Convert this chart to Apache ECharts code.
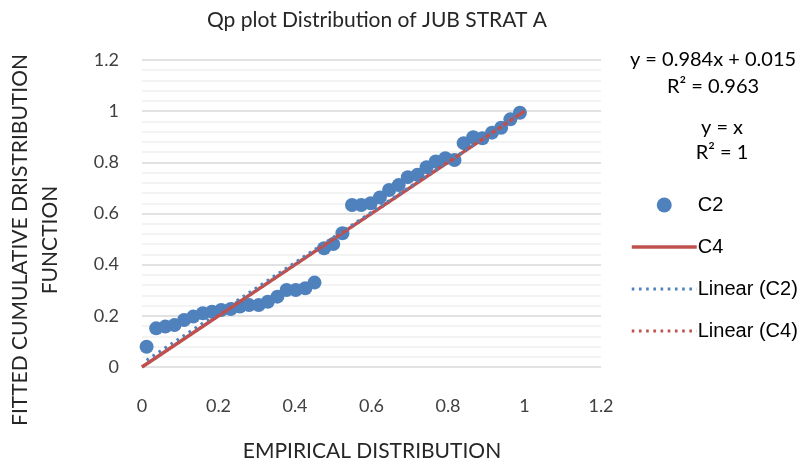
<!DOCTYPE html>
<html><head><meta charset="utf-8">
<script src="https://cdn.jsdelivr.net/npm/echarts@6/dist/echarts.min.js"></script>
<style>html,body{margin:0;padding:0;background:#fff}#c{width:807px;height:463px}</style>
</head><body><div id="c"></div>
<script>
const c2X = [0.012,0.037,0.061,0.085,0.110,0.134,0.159,0.183,0.207,0.232,0.256,0.280,0.305,0.329,0.354,0.378,0.402,0.427,0.451,0.476,0.500,0.524,0.549,0.573,0.598,0.622,0.646,0.671,0.695,0.720,0.744,0.768,0.793,0.817,0.841,0.866,0.890,0.915,0.939,0.963,0.988];
const c2Y = [0.079,0.151,0.158,0.164,0.184,0.197,0.210,0.216,0.223,0.227,0.236,0.242,0.242,0.255,0.275,0.301,0.301,0.308,0.330,0.464,0.481,0.523,0.633,0.633,0.640,0.663,0.692,0.711,0.742,0.751,0.781,0.803,0.816,0.809,0.875,0.898,0.894,0.916,0.935,0.968,0.994];
const c4X = [0, 1];
const c4Y = [0, 1];
const trendC2 = [0.984, 0.015]; // slope, intercept
const trendC4 = [1, 0];
const tickLabels = ['0','0.2','0.4','0.6','0.8','1','1.2'];

const FONT = 'Lato';
const TXT = '#404040';
const BLUE = '#4F81BD', RED = '#C0504D';
const zip = (a,b) => a.map((v,i)=>[v,b[i]]);
const trendPts = (xs, t) => { const lo=Math.min(...xs), hi=Math.max(...xs); return [[lo,t[0]*lo+t[1]],[hi,t[0]*hi+t[1]]]; };
const fmt = v => tickLabels[Math.round(v/0.2)];
const DOT = {type:[2.6,4.6], width:3};

const chart = echarts.init(document.getElementById('c'), null, {renderer:'canvas'});
chart.setOption({
  animation:false,
  textStyle:{fontFamily:FONT},
  title:{text:'Qp plot Distribution of JUB STRAT A', left:372, top:5, textAlign:'center',
    textStyle:{fontFamily:FONT, fontSize:21, fontWeight:'normal', color:'#262626'}},
  grid:{left:142, right:206, top:60, bottom:96},
  xAxis:{type:'value', min:0, max:1.2, interval:0.2,
    axisLine:{show:false}, axisTick:{show:false}, splitLine:{show:false},
    axisLabel:{color:TXT, fontSize:18, fontFamily:FONT, margin:30, formatter:fmt}},
  yAxis:{type:'value', min:0, max:1.2, interval:0.2,
    axisLine:{show:false}, axisTick:{show:false},
    splitLine:{show:true, lineStyle:{color:'#D9D9D9', width:1.5}},
    minorTick:{show:false, splitNumber:5},
    minorSplitLine:{show:true, lineStyle:{color:'#F0F0F0', width:1.5}},
    axisLabel:{color:TXT, fontSize:18, fontFamily:FONT, margin:23, formatter:fmt}},
  legend:{orient:'vertical', left:625, top:190, itemWidth:65, itemHeight:15, itemGap:22,
    textStyle:{fontFamily:'Liberation Sans', fontSize:20, color:'#000', padding:[2,0,0,-4]},
    data:[{name:'C2', icon:'circle'},
          {name:'C4', itemStyle:{opacity:0}, lineStyle:{width:3.5, color:RED}},
          {name:'Linear (C2)', itemStyle:{opacity:0}, lineStyle:Object.assign({color:BLUE}, DOT)},
          {name:'Linear (C4)', itemStyle:{opacity:0}, lineStyle:Object.assign({color:RED}, DOT)}]},
  series:[
    {name:'Linear (C4)', type:'line', data:trendPts(c4X,trendC4), symbol:'none', z:1,
      lineStyle:Object.assign({color:RED}, DOT), itemStyle:{color:RED}},
    {name:'C2', type:'scatter', data:zip(c2X,c2Y), symbolSize:14, z:2,
      itemStyle:{color:BLUE, opacity:1}},
    {name:'C4', type:'line', data:zip(c4X,c4Y), symbol:'none', z:3,
      lineStyle:{color:RED, width:3.5}, itemStyle:{color:RED}},
    {name:'Linear (C2)', type:'line', data:trendPts(c2X,trendC2), symbol:'none', z:4,
      lineStyle:Object.assign({color:BLUE}, DOT), itemStyle:{color:BLUE}}
  ],
  graphic:[
    {type:'text', style:{text:'y = 0.984x + 0.015\nR² = 0.963', x:713, y:46, align:'center', fontFamily:FONT, fontSize:20, lineHeight:27, fill:'#000'}},
    {type:'text', style:{text:'y = x\nR² = 1', x:722, y:115, align:'center', fontFamily:FONT, fontSize:20, lineHeight:25, fill:'#000'}},
    {type:'text', rotation:Math.PI/2, x:35, y:240, style:{text:'FITTED CUMULATIVE DRISTRIBUTION\nFUNCTION', align:'center', verticalAlign:'middle', fontFamily:FONT, fontSize:21, lineHeight:30, fill:'#262626'}},
    {type:'text', style:{text:'EMPIRICAL DISTRIBUTION', x:372, y:441, align:'center', fontFamily:FONT, fontSize:21, fill:'#262626'}}
  ]
});
</script></body></html>
